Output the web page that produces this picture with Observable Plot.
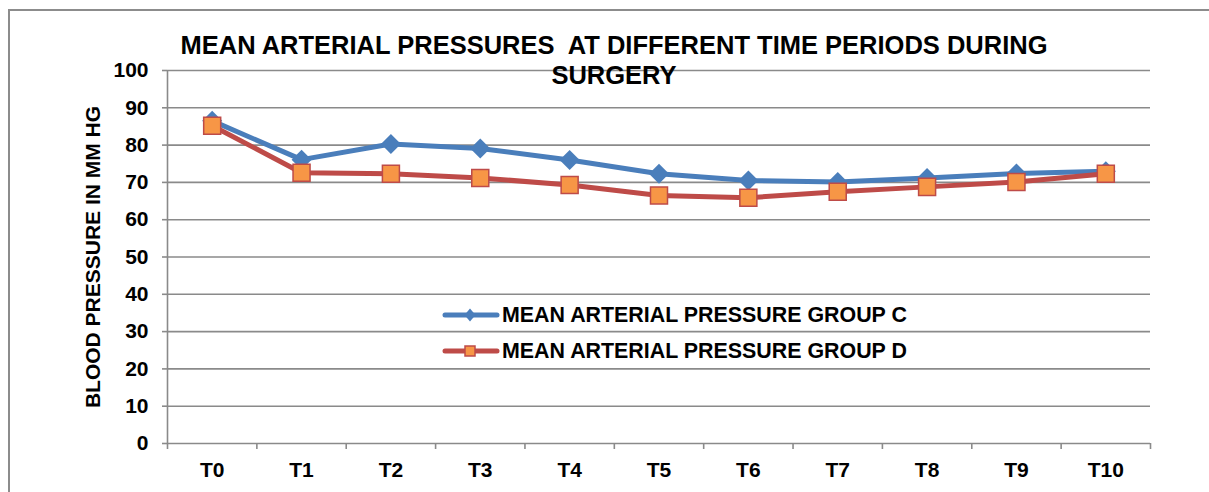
<!DOCTYPE html>
<html><head><meta charset="utf-8">
<script src="https://cdn.jsdelivr.net/npm/d3@7"></script>
<script src="https://cdn.jsdelivr.net/npm/@observablehq/plot@0.6"></script>
<style>
html,body{margin:0;background:#fff;overflow:hidden;}
#wrap{position:relative;width:1209px;height:492px;overflow:hidden;font-family:"Liberation Sans",Arial,sans-serif;font-weight:bold;color:#000;}
#bTop{position:absolute;left:8px;top:9px;width:1201px;height:2px;background:#8c8c8c;}
#bLeft{position:absolute;left:8px;top:9px;width:2px;height:483px;background:#8c8c8c;}
#chart{position:absolute;left:0;top:0;}
#title{position:absolute;left:0;width:1228px;top:30px;text-align:center;font-size:25.5px;line-height:30px;white-space:pre;}
#legend{position:absolute;left:442px;top:297px;font-size:21.4px;}
.row{display:flex;align-items:center;height:36px;}
.row svg{margin-right:2px;}
</style>
</head><body>
<div id="wrap">
  <div id="bTop"></div>
  <div id="bLeft"></div>
  <div id="chart"></div>
  <div id="title"></div>
  <div id="legend"></div>
</div>
<script>
const categories = ["T0","T1","T2","T3","T4","T5","T6","T7","T8","T9","T10"];
const groupC = [86.5, 76.1, 80.3, 79.1, 76.0, 72.3, 70.5, 70.1, 71.2, 72.4, 73.0];
const groupD = [85.2, 72.6, 72.3, 71.2, 69.3, 66.5, 65.9, 67.5, 68.8, 70.1, 72.3];
const yTicks = [0, 10, 20, 30, 40, 50, 60, 70, 80, 90, 100];
const seriesNames = ["MEAN ARTERIAL PRESSURE GROUP C", "MEAN ARTERIAL PRESSURE GROUP D"];
const titleLines = ["MEAN ARTERIAL PRESSURES  AT DIFFERENT TIME PERIODS DURING", "SURGERY"];
const yLabel = "BLOOD PRESSURE IN MM HG";

const blue = "#4a7ebb", red = "#be4b48", orange = "#f79646", gray = "#8a8a8a";
const idx = categories.map((_, i) => i);
const bounds = categories.map((_, i) => i - 0.5).concat([categories.length - 0.5]);
const rowsC = categories.map((t, i) => ({i, t, v: groupC[i]}));
const rowsD = categories.map((t, i) => ({i, t, v: groupD[i]}));

const chart = Plot.plot({
  width: 1209, height: 492,
  marginLeft: 167, marginRight: 59, marginTop: 70, marginBottom: 49,
  style: {fontFamily: "'Liberation Sans', Arial, sans-serif", fontWeight: "bold", fontSize: "21px", color: "#000", background: "transparent", overflow: "visible"},
  x: {type: "linear", domain: [-0.5, categories.length - 0.5]},
  y: {domain: [0, 100]},
  marks: [
    Plot.ruleY(yTicks, {stroke: gray, strokeWidth: 1.6}),
    Plot.ruleX([-0.5], {y1: 0, y2: 100, stroke: gray, strokeWidth: 1.6}),
    Plot.axisY({ticks: yTicks, tickSize: 5, tickPadding: 14, stroke: gray, strokeWidth: 1.6, strokeOpacity: 1,
      label: yLabel, labelAnchor: "center", labelOffset: 82, labelArrow: "none", fontSize: 21}),
    Plot.axisX({ticks: bounds, tickSize: 6, tickFormat: () => "", stroke: gray, strokeWidth: 1.6, strokeOpacity: 1, label: null}),
    Plot.axisX({ticks: idx, tickSize: 0, tickPadding: 19, tickFormat: i => categories[i], label: null, fontSize: 21}),
    Plot.lineY(rowsC, {x: "i", y: "v", stroke: blue, strokeWidth: 5}),
    Plot.dot(rowsC, {x: "i", y: "v", symbol: "diamond2", r: 9, fill: blue}),
    Plot.lineY(rowsD, {x: "i", y: "v", stroke: red, strokeWidth: 5}),
    Plot.dot(rowsD, {x: "i", y: "v", symbol: "square", r: 9.6, fill: orange, stroke: red, strokeWidth: 1.5})
  ]
});
document.getElementById("chart").appendChild(chart);
document.getElementById("title").textContent = titleLines.join("\n");

const leg = document.getElementById("legend");
const swatches = [
  `<svg width="58" height="36"><line x1="3" y1="18" x2="55" y2="18" stroke="${blue}" stroke-width="5" stroke-linecap="round"/><path d="M28,11.5L33.5,18L28,24.5L22.5,18Z" fill="${blue}"/></svg>`,
  `<svg width="58" height="36"><line x1="3" y1="18" x2="55" y2="18" stroke="${red}" stroke-width="5" stroke-linecap="round"/><rect x="23" y="13" width="10" height="10" fill="${orange}" stroke="${red}" stroke-width="1.5"/></svg>`
];
seriesNames.forEach((n, k) => {
  const r = document.createElement("div");
  r.className = "row";
  r.innerHTML = swatches[k] + `<span>${n}</span>`;
  leg.appendChild(r);
});
</script>
</body></html>
